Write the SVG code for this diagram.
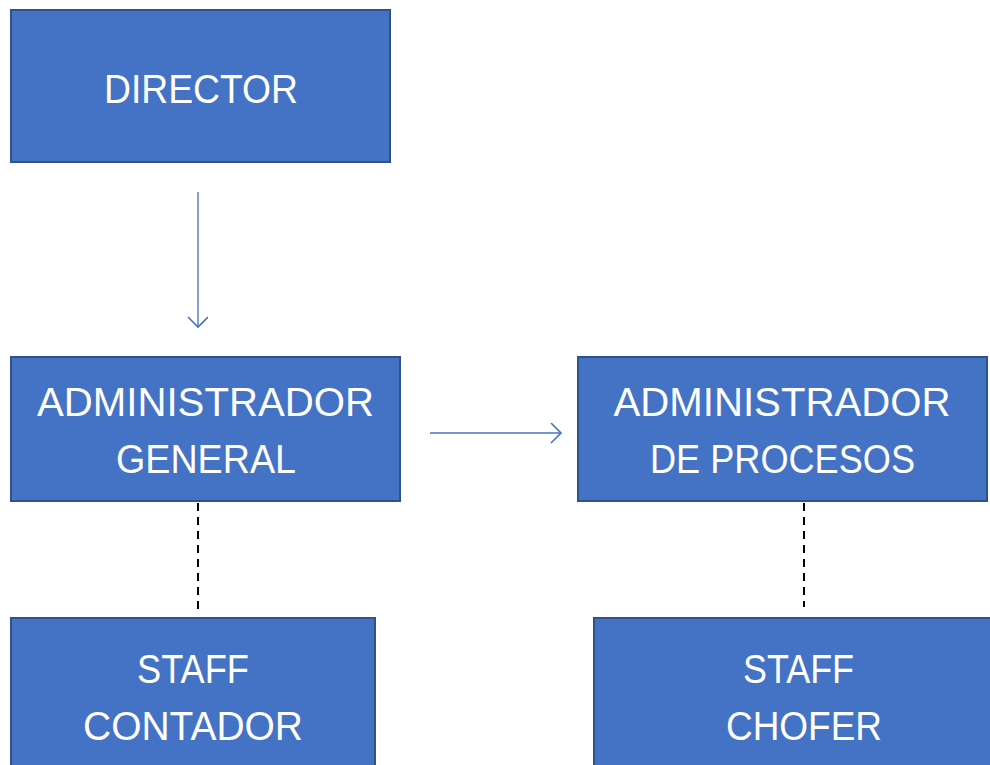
<svg xmlns="http://www.w3.org/2000/svg" width="990" height="765" viewBox="0 0 990 765">
<style>
.box{fill:#4472C4;stroke:#2F528F;stroke-width:2}
.t{fill:#fff;font-family:"Liberation Sans",Arial,sans-serif;font-size:40px;text-anchor:middle}
.arr{stroke:#4472C4;stroke-width:1.3;fill:none}
.dash{stroke:#000;stroke-width:2;stroke-dasharray:8,6;fill:none}
</style>
<defs>
<marker id="open" markerWidth="24" markerHeight="24" refX="20" refY="10" orient="auto" markerUnits="userSpaceOnUse">
<path d="M10,0 L20,10 L10,20" fill="none" stroke="#4472C4" stroke-width="1.6"/>
</marker>
</defs>
<rect width="990" height="765" fill="#fff"/>
<g id="director"><rect class="box" x="11" y="10" width="379" height="152"/><text class="t" x="201" y="103" textLength="194" lengthAdjust="spacingAndGlyphs">DIRECTOR</text></g>
<g id="admin-general"><rect class="box" x="11" y="357" width="389" height="144"/><text class="t" x="205.5" y="416" textLength="337" lengthAdjust="spacingAndGlyphs">ADMINISTRADOR</text><text class="t" x="206" y="473" textLength="180" lengthAdjust="spacingAndGlyphs">GENERAL</text></g>
<g id="admin-procesos"><rect class="box" x="578" y="357" width="409" height="144"/><text class="t" x="782" y="416" textLength="337" lengthAdjust="spacingAndGlyphs">ADMINISTRADOR</text><text class="t" x="782.5" y="473" textLength="265" lengthAdjust="spacingAndGlyphs">DE PROCESOS</text></g>
<g id="staff-contador"><rect class="box" x="11" y="618" width="364" height="160"/><text class="t" x="193" y="683" textLength="112" lengthAdjust="spacingAndGlyphs">STAFF</text><text class="t" x="193" y="740" textLength="220" lengthAdjust="spacingAndGlyphs">CONTADOR</text></g>
<g id="staff-chofer"><rect class="box" x="594" y="618" width="420" height="160"/><text class="t" x="798.5" y="683" textLength="111" lengthAdjust="spacingAndGlyphs">STAFF</text><text class="t" x="804" y="740" textLength="156" lengthAdjust="spacingAndGlyphs">CHOFER</text></g>
<g id="connectors">
<line class="arr" x1="198" y1="192" x2="198" y2="327" marker-end="url(#open)"/>
<line class="arr" x1="430" y1="433" x2="561" y2="433" marker-end="url(#open)"/>
<line class="dash" x1="198" y1="503" x2="198" y2="615"/>
<line class="dash" x1="804" y1="503" x2="804" y2="607"/>
</g>
</svg>
